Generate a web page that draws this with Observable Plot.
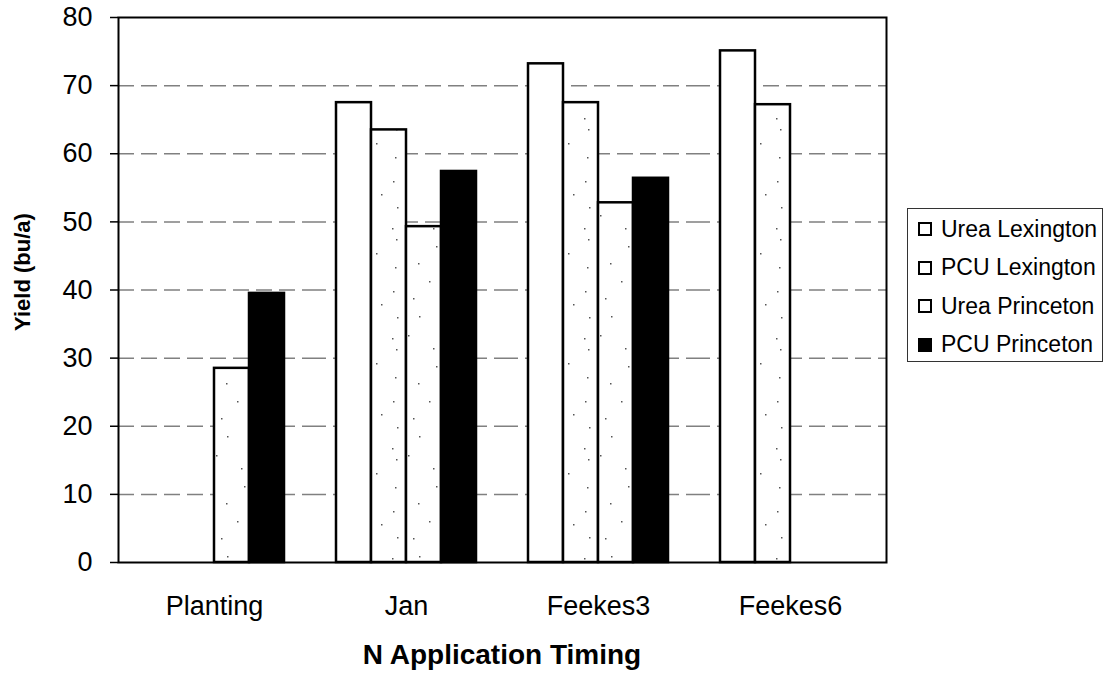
<!DOCTYPE html>
<html>
<head>
<meta charset="utf-8">
<script src="https://cdn.jsdelivr.net/npm/d3@7"></script>
<script src="https://cdn.jsdelivr.net/npm/@observablehq/plot@0.6"></script>
<style>
  html, body { margin: 0; padding: 0; background: #fff; }
  #wrap { position: relative; width: 1107px; height: 675px; font-family: "Liberation Sans", Arial, sans-serif; color: #000; }
  #chart { position: absolute; left: 0; top: 0; }
  .ytitle { position: absolute; left: 23px; top: 272px; transform: translate(-50%, -50%) rotate(-90deg); font-weight: bold; font-size: 22px; white-space: nowrap; }
  .xtitle { position: absolute; left: 502px; top: 655px; transform: translate(-50%, -50%); font-weight: bold; font-size: 28px; white-space: nowrap; }
  #legend { position: absolute; left: 907px; top: 208px; width: 196px; height: 154px; border: 1.5px solid #333; box-sizing: border-box; }
  .item { position: absolute; left: 10px; height: 30px; display: flex; align-items: center; font-size: 23px; white-space: nowrap; }
  .sw { width: 10px; height: 10px; border: 2px solid #000; margin-right: 9px; }
</style>
</head>
<body>
<div id="wrap">
  <div id="chart"></div>
  <div class="ytitle">Yield (bu/a)</div>
  <div class="xtitle">N Application Timing</div>
  <div id="legend"></div>
</div>
<script>
const timings = ["Planting", "Jan", "Feekes3", "Feekes6"];
const series = ["Urea Lexington", "PCU Lexington", "Urea Princeton", "PCU Princeton"];
const ureaLexington = [null, 67.5, 73.2, 75.1];
const pcuLexington  = [null, 63.5, 67.5, 67.2];
const ureaPrinceton = [28.5, 49.3, 52.8, null];
const pcuPrinceton  = [39.5, 57.4, 56.4, null];
const yTicks = [0, 10, 20, 30, 40, 50, 60, 70, 80];

const seriesValues = [ureaLexington, pcuLexington, ureaPrinceton, pcuPrinceton];
const fills = ["white", "url(#stipA)", "url(#stipB)", "black"];
const legendFills = ["white", "white", "white", "black"];

const data = timings.flatMap((t, i) => series.map((s, j) => ({timing: t, series: s, value: seriesValues[j][i]})));

const chart = Plot.plot({
  width: 1107,
  height: 675,
  marginLeft: 117,
  marginRight: 220,
  marginTop: 17,
  marginBottom: 113,
  style: {fontFamily: "'Liberation Sans', Arial, sans-serif", fontSize: "27px", color: "black", background: "white", overflow: "visible"},
  fx: {domain: timings, padding: 0, label: null},
  x: {domain: series, paddingInner: 0, paddingOuter: 0.71, axis: null},
  y: {domain: [0, 80], label: null},
  color: {domain: series, range: fills, type: "ordinal"},
  marks: [
    Plot.gridY(yTicks.slice(1, -1), {stroke: "#808080", strokeOpacity: 1, strokeWidth: 1.5, strokeDasharray: "16,7"}),
    Plot.barY(data, {fx: "timing", x: "series", y: "value", fill: "series", stroke: "black", strokeWidth: 2.5}),
    Plot.frame({facet: "super", stroke: "black", strokeWidth: 2}),
    Plot.axisY(yTicks, {tickSize: 8, tickPadding: 18, fontSize: 27, label: null, strokeWidth: 1.5}),
    Plot.axisFx({anchor: "bottom", tickSize: 0, tickPadding: 33, fontSize: 27, label: null})
  ]
});

// sparse stipple texture for the lightly dotted bars
const ns = "http://www.w3.org/2000/svg";
const defs = document.createElementNS(ns, "defs");
function pattern(id, w, h, dots) {
  const p = document.createElementNS(ns, "pattern");
  p.setAttribute("id", id);
  p.setAttribute("width", w);
  p.setAttribute("height", h);
  p.setAttribute("patternUnits", "userSpaceOnUse");
  const r = document.createElementNS(ns, "rect");
  r.setAttribute("width", w); r.setAttribute("height", h); r.setAttribute("fill", "white");
  p.appendChild(r);
  dots.forEach(([cx, cy]) => {
    const c = document.createElementNS(ns, "rect");
    c.setAttribute("x", cx); c.setAttribute("y", cy);
    c.setAttribute("width", 1.5); c.setAttribute("height", 1.5);
    c.setAttribute("fill", "#555");
    p.appendChild(c);
  });
  defs.appendChild(p);
}
pattern("stipA", 35, 110, [[24, 8], [28, 19], [8, 33], [27, 47], [25, 71], [13, 84], [29, 97]]);
pattern("stipB", 33, 120, [[12, 6], [27, 23], [5, 41], [22, 58], [28, 76], [17, 95], [9, 108]]);
const svg = chart.tagName.toLowerCase() === "svg" ? chart : chart.querySelector("svg");
svg.insertBefore(defs, svg.firstChild);

document.getElementById("chart").appendChild(chart);

const legend = document.getElementById("legend");
series.forEach((s, i) => {
  const item = document.createElement("div");
  item.className = "item";
  item.style.top = (5 + i * 38.5) + "px";
  const sw = document.createElement("div");
  sw.className = "sw";
  sw.style.background = legendFills[i];
  item.appendChild(sw);
  const tx = document.createElement("span");
  tx.textContent = s;
  item.appendChild(tx);
  legend.appendChild(item);
});
</script>
</body>
</html>
